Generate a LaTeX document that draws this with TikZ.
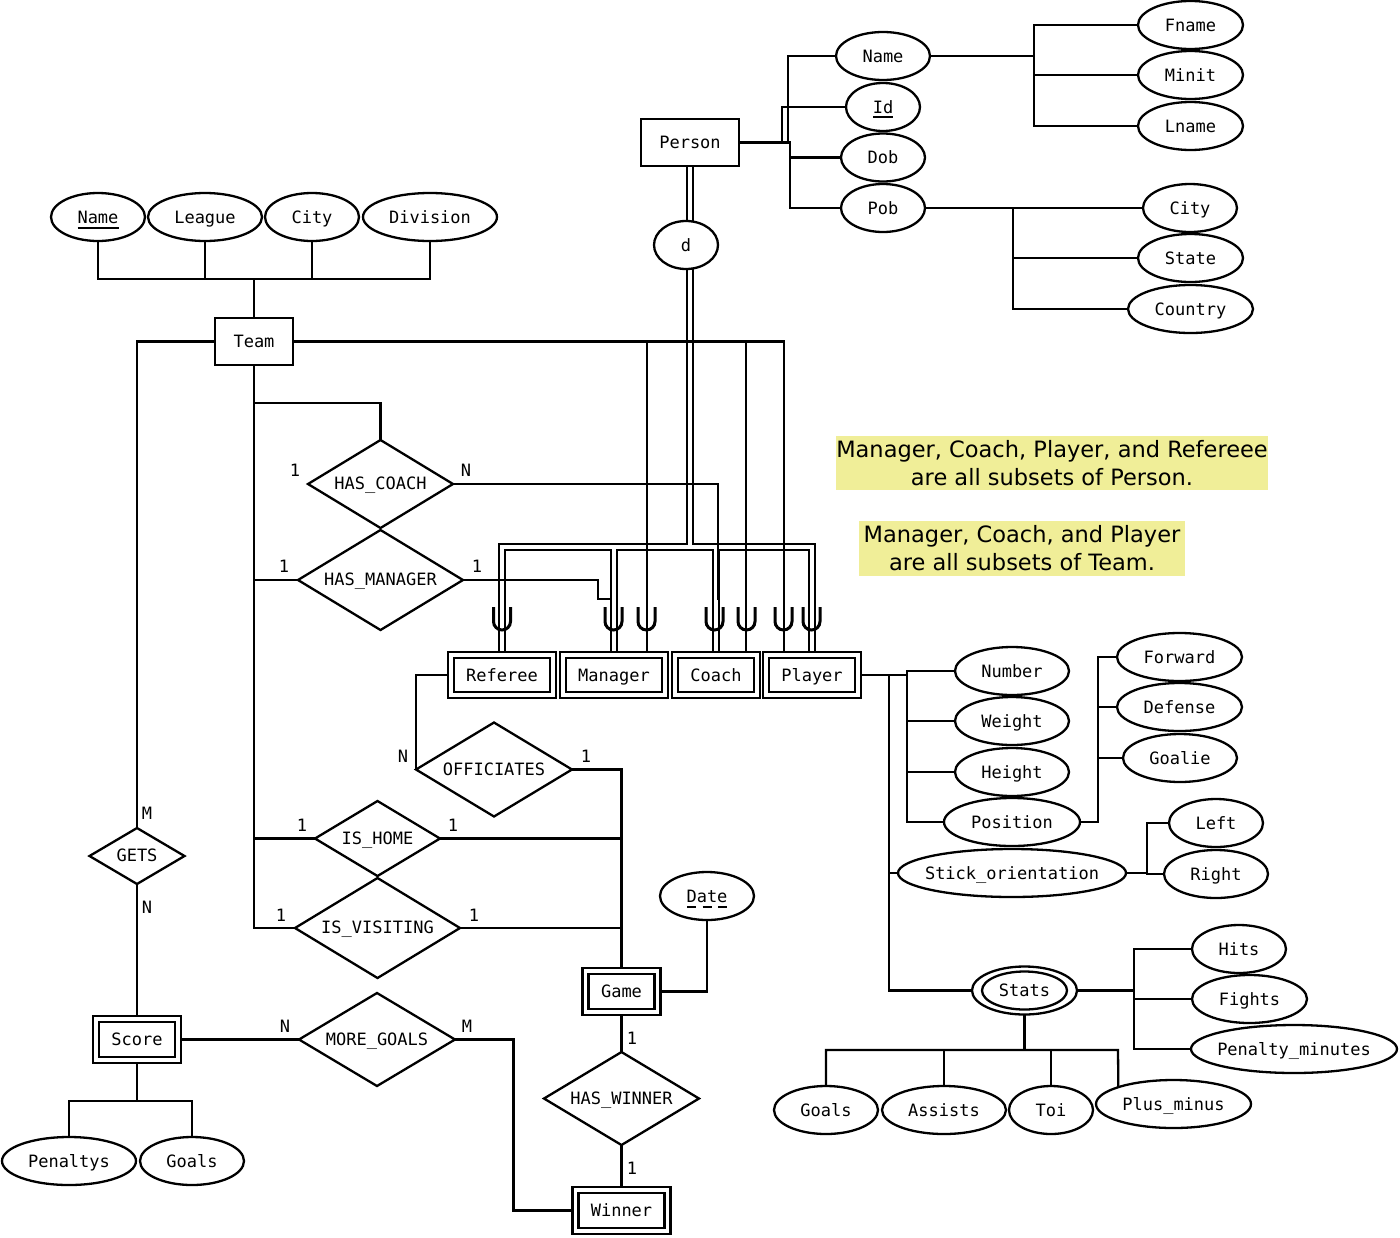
\documentclass[tikz,border=0pt]{standalone}
\usepackage{fontspec}
\setmainfont{DejaVu Sans Mono}
\newfontfamily\notefont{DejaVu Sans}
\usetikzlibrary{shapes.geometric,calc,backgrounds}
\newcommand\zw[1]{\makebox[0pt]{#1}}
\definecolor{notebg}{RGB}{240,238,152}
\tikzset{
  ent/.style={draw, rectangle, fill=white, minimum height=47pt, inner sep=0pt, outer sep=0pt, text height=14pt, text depth=2pt},
  went/.style={ent, double, double distance=3.8pt, minimum height=40pt},
  attr/.style={draw, ellipse, fill=white, minimum height=48pt, inner sep=0pt, outer sep=0pt, text height=14pt, text depth=2pt},
  rel/.style={draw, diamond, fill=white, inner sep=0pt, outer sep=0pt, text height=13.5pt, text depth=2.5pt},
  card/.style={inner sep=0pt},
  note/.style={fill=notebg, inner sep=0pt, align=center, font=\notefont\fontsize{22.5}{28}\selectfont},
  cupline/.style={line width=3pt},
  keyline/.style={line width=2pt},
}
% subset symbol drawn on an ISA line
\newcommand\subcup[1]{\draw[cupline] (#1-8.5,607) -- (#1-8.5,621.5) arc[start angle=180, end angle=360, radius=8.5pt] -- (#1+8.5,607);}
\begin{document}
\begin{tikzpicture}[x=1pt, y=-1pt, line width=2.3pt, font=\fontsize{17}{20}\selectfont]
\useasboundingbox (0,0) rectangle (1400,1237);

% ---------- entities ----------
\node[ent, minimum width=98pt] (Person) at (690,142.5) {Person};
\node[ent, minimum width=78pt] (Team) at (254,341.5) {Team};
\node[went, minimum width=102pt] (Referee) at (502,675) {Referee};
\node[went, minimum width=102pt] (Manager) at (614,675) {Manager};
\node[went, minimum width=82pt] (Coach) at (716,675) {Coach};
\node[went, minimum width=92pt] (Player) at (812,675) {Player};
\node[went, minimum width=72pt, minimum height=41pt] (Game) at (621.5,991.5) {Game};
\node[went, minimum width=82pt, minimum height=41pt] (Score) at (137,1039.5) {Score};
\node[went, minimum width=92pt, minimum height=41pt] (Winner) at (621.5,1210.5) {Winner};

% ---------- attributes ----------
\node[attr, minimum width=94pt] (PName) at (883,56) {Name};
\node[attr, minimum width=74pt] (Id) at (883,107) {Id};
\node[attr, minimum width=84pt] (Dob) at (883,157.5) {Dob};
\node[attr, minimum width=84pt] (Pob) at (883,208) {Pob};
\node[attr, minimum width=105pt] (Fname) at (1190.5,25) {Fname};
\node[attr, minimum width=105pt] (Minit) at (1190.5,75) {Minit};
\node[attr, minimum width=105pt] (Lname) at (1190.5,126) {Lname};
\node[attr, minimum width=94pt] (PCity) at (1190,208) {City};
\node[attr, minimum width=105pt] (State) at (1190.5,258) {State};
\node[attr, minimum width=125pt] (Country) at (1190.5,309) {Country};
\node[attr, minimum width=64pt] (d) at (686,245) {d};

\node[attr, minimum width=94pt] (TName) at (98,217) {Name};
\node[attr, minimum width=114pt] (League) at (205,217) {League};
\node[attr, minimum width=94pt] (TCity) at (312,217) {City};
\node[attr, minimum width=134pt] (Division) at (430,217) {Division};

\node[attr, minimum width=114pt] (Number) at (1012,671) {Number};
\node[attr, minimum width=114pt] (Weight) at (1012,721) {Weight};
\node[attr, minimum width=114pt] (Height) at (1012,772) {Height};
\node[attr, minimum width=136pt] (Position) at (1012,822) {Position};
\node[attr, minimum width=228pt] (StickO) at (1012,873) {\zw{Stick\_orientation}};
\node[attr, minimum width=125pt] (Forward) at (1179.5,657) {Forward};
\node[attr, minimum width=125pt] (Defense) at (1179.5,707) {Defense};
\node[attr, minimum width=114pt] (Goalie) at (1180,758) {Goalie};
\node[attr, minimum width=94pt] (Left) at (1216,823) {Left};
\node[attr, minimum width=104pt] (Right) at (1216,874) {Right};

\node[attr, minimum width=94pt] (Date) at (707,896) {Date};

\node[attr, minimum width=105pt] (Stats) at (1024.5,990.5) {\zw{Stats}};
\node[attr, minimum width=94pt] (Hits) at (1239,949) {Hits};
\node[attr, minimum width=115pt] (Fights) at (1249.5,999) {Fights};
\node[attr, minimum width=206pt] (PenMin) at (1294,1049) {\zw{Penalty\_minutes}};
\node[attr, minimum width=104pt] (SGoals) at (826,1110) {Goals};
\node[attr, minimum width=124pt] (Assists) at (944,1110) {Assists};
\node[attr, minimum width=84pt] (Toi) at (1051,1110) {Toi};
\node[attr, minimum width=155pt] (PlusMinus) at (1173.5,1104) {\zw{Plus\_minus}};

\node[attr, minimum width=134pt] (Penaltys) at (69,1161) {Penaltys};
\node[attr, minimum width=104pt] (CGoals) at (192,1161) {Goals};

% inner ring of the multivalued attribute
\draw (Stats.center) ellipse [x radius=42.5pt, y radius=19pt];

% key underlines
\draw[keyline] ($(TName.center)+(-20.5,11)$) -- ($(TName.center)+(20.5,11)$);
\draw[keyline] ($(Id.center)+(-10,10)$) -- ($(Id.center)+(10,10)$);
\draw[keyline, dash pattern=on 9pt off 6.5pt] ($(Date.center)+(-20,11)$) -- ($(Date.center)+(20,11)$);

% ---------- relationships ----------
\node[rel, minimum width=145pt, minimum height=88pt] (HasCoach) at (380.5,484) {\zw{HAS\_COACH}};
\node[rel, minimum width=165pt, minimum height=100pt] (HasManager) at (380.5,580) {\zw{HAS\_MANAGER}};
\node[rel, minimum width=156pt, minimum height=94pt] (Officiates) at (494,769.5) {\zw{OFFICIATES}};
\node[rel, minimum width=125pt, minimum height=75pt] (IsHome) at (377.5,838.5) {\zw{IS\_HOME}};
\node[rel, minimum width=165pt, minimum height=100pt] (IsVisiting) at (377.5,928) {\zw{IS\_VISITING}};
\node[rel, minimum width=95pt, minimum height=56pt] (Gets) at (137,856) {\zw{GETS}};
\node[rel, minimum width=156pt, minimum height=93pt] (MoreGoals) at (377,1039.5) {\zw{MORE\_GOALS}};
\node[rel, minimum width=155pt, minimum height=93pt] (HasWinner) at (621.5,1098.5) {\zw{HAS\_WINNER}};

% ---------- cardinalities ----------
\node[card] (c1) at (295,470) {1};
\node[card] (c2) at (466,470) {N};
\node[card] (c3) at (284,566) {1};
\node[card] (c4) at (477,566) {1};
\node[card] (c5) at (403,756) {N};
\node[card] (c6) at (586,756) {1};
\node[card] (c7) at (302,825) {1};
\node[card] (c8) at (453,825) {1};
\node[card] (c9) at (281,915) {1};
\node[card] (c10) at (474,915) {1};
\node[card] (c11) at (147,813) {M};
\node[card] (c12) at (147,907) {N};
\node[card] (c13) at (285,1026) {N};
\node[card] (c14) at (467,1026) {M};
\node[card] (c15) at (632,1038) {1};
\node[card] (c16) at (632,1168) {1};

% ---------- notes ----------
\node[note, minimum width=432pt, minimum height=54pt] (note1) at (1052,463)
  {Manager, Coach, Player, and Refereee\\are all subsets of Person.};
\node[note, minimum width=326pt, minimum height=55pt] (note2) at (1022,548.5)
  {Manager, Coach, and Player\\are all subsets of Team.};

% ---------- subset marks ----------
\subcup{502}
\subcup{613.5}
\subcup{646.5}
\subcup{714.5}
\subcup{746.5}
\subcup{783.5}
\subcup{811.5}

% ---------- connectors ----------
\begin{pgfonlayer}{background}
\begin{scope}[line width=2.3pt]
\coordinate (pbar) at (690,547);
% total specialisation of Person (double lines)
\foreach \w/\c in {8.4pt/black, 4pt/white}{
  \draw[line width=\w, draw=\c]
    (Referee.north) -- (Referee.north |- pbar) -- (Player.north |- pbar) -- (Player.north)
    (Manager.north |- pbar) -- (Manager.north)
    (Coach.north |- pbar) -- (Coach.north)
    (Person.south) -- (pbar);
}

% Person attributes
\coordinate (pj) at (790,142.5);
\coordinate (pj2) at (788,142.5);
\coordinate (pj3) at (782,142.5);
\draw (Person.east) -- (pj) |- (Pob.west);
\draw (pj |- Dob.west) -- (Dob.west);
\draw (pj2) |- (PName.west);
\draw (pj3) |- (Id.west);
\coordinate (nb) at (1034,56);
\draw (PName.east) -- (nb);
\draw (Fname.west) -- (Fname.west -| nb) -- (nb |- Lname.west) -- (Lname.west);
\draw (Minit.west) -- (Minit.west -| nb);
\coordinate (pobb) at (1013,208);
\draw (Pob.east) -- (pobb);
\draw (PCity.west) -- (PCity.west -| pobb) -- (pobb |- Country.west) -- (Country.west);
\draw (State.west) -- (State.west -| pobb);

% Team attributes
\coordinate (tbus) at (254,279);
\draw (TName.south) -- (TName.south |- tbus) -- (Division.south |- tbus) -- (Division.south);
\draw (League.south) -- (League.south |- tbus);
\draw (TCity.south) -- (TCity.south |- tbus);
\draw (Team.north) -- (tbus);

% Team subsets
\draw (Team.east) -| ($(Player.north)+(-28,0)$);
\draw ($(Manager.north)+(33,0)$) |- (Team.east);
\draw ($(Coach.north)+(30,0)$) |- (Team.east);

% Team relationships
\coordinate (hc) at (254,403);
\draw (Team.south) |- (IsVisiting.west);
\draw (hc) -| (HasCoach.north);
\draw (Team.south |- HasManager.west) -- (HasManager.west);
\draw (Team.south |- IsHome.west) -- (IsHome.west);
\draw (Team.west) -| (Gets.north);
\draw (Gets.south) -- (Score.north);

\draw (HasCoach.east) -| ($(Coach.north)+(2,-55)$);
\draw (HasManager.east) -- (598,580) -- (598,599) -- ($(Manager.north)+(-2,-56)$);

% Game
\draw (Referee.west) -| (Officiates.west);
\draw (Officiates.east) -| (Game.north);
\draw (IsHome.east) -- (IsHome.east -| Game.north);
\draw (IsVisiting.east) -- (IsVisiting.east -| Game.north);
\draw (Game.east) -| (Date.south);
\draw (Game.south) -- (HasWinner.north);
\draw (HasWinner.south) -- (Winner.north);

% Score
\draw (Score.east) -- (MoreGoals.west);
\draw (MoreGoals.east) -| ($(Winner.west)+(-62,0)$) -- (Winner.west);
\coordinate (scb) at (137,1101);
\draw (Score.south) -- (scb);
\draw (Penaltys.north) -- (Penaltys.north |- scb) -- (CGoals.north |- scb) -- (CGoals.north);

% Player attributes
\coordinate (pa) at (907,675);
\coordinate (pb) at (889,675);
\draw (Player.east) -- (pa);
\draw (Number.west) -- (Number.west -| pa) -- (pa |- Position.west) -- (Position.west);
\draw (Weight.west) -- (Weight.west -| pa);
\draw (Height.west) -- (Height.west -| pa);
\draw (pb) |- (Stats.west);
\draw (pb |- StickO.west) -- (StickO.west);

\coordinate (posb) at (1098,822);
\draw (Position.east) -- (posb) -- (posb |- Forward.west) -- (Forward.west);
\draw (posb |- Defense.west) -- (Defense.west);
\draw (posb |- Goalie.west) -- (Goalie.west);

\coordinate (sob) at (1147,873);
\draw (StickO.east) -- (sob);
\draw (Left.west) -- (Left.west -| sob) -- (sob |- Right.west) -- (Right.west);

% Stats
\coordinate (stb) at (1134,990.5);
\draw (Stats.east) -- (stb);
\draw (Hits.west) -- (Hits.west -| stb) -- (stb |- PenMin.west) -- (PenMin.west);
\draw (stb |- Fights.west) -- (Fights.west);
\coordinate (sdb) at (1024.5,1050);
\draw (Stats.south) -- (sdb);
\draw (SGoals.north) -- (SGoals.north |- sdb) -- (1118,1050) -- ($(PlusMinus.center)+(-55,0)$);
\draw (Assists.north) -- (Assists.north |- sdb);
\draw (Toi.north) -- (Toi.north |- sdb);
\end{scope}
\end{pgfonlayer}
\end{tikzpicture}
\end{document}
